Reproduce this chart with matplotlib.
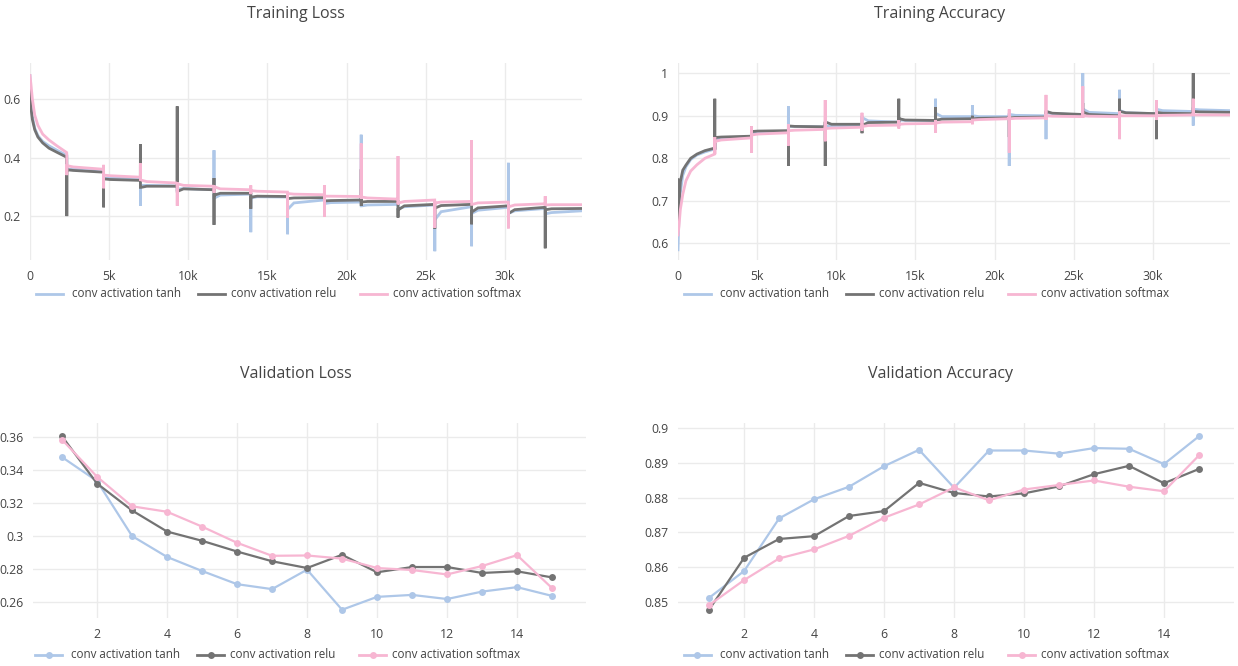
import matplotlib
matplotlib.use("Agg")
import matplotlib.pyplot as plt
from matplotlib.lines import Line2D
from matplotlib.ticker import FixedLocator, FuncFormatter

plt.rcParams["font.family"] = ["Open Sans", "DejaVu Sans"]

# ---------------------------------------------------------------- data
series_names = ["conv activation tanh", "conv activation relu", "conv activation softmax"]
series_colors = ["#aec7e8", "#737373", "#f7b6d2"]

steps_per_epoch = 2325
n_epochs = 15

# first-epoch curves: (steps, values)
loss_first_steps = [0, 60, 150, 300, 500, 800, 1200, 1700, 2320]
loss_first_tanh = [0.68, 0.60, 0.54, 0.50, 0.475, 0.455, 0.44, 0.425, 0.407]
loss_first_relu = [0.63, 0.57, 0.53, 0.495, 0.47, 0.45, 0.432, 0.418, 0.401]
loss_first_softmax = [0.68, 0.65, 0.60, 0.545, 0.51, 0.48, 0.46, 0.44, 0.417]

acc_first_steps = [0, 60, 150, 300, 500, 800, 1200, 1700, 2320]
acc_first_tanh = [0.585, 0.66, 0.72, 0.76, 0.78, 0.797, 0.808, 0.815, 0.822]
acc_first_softmax = [0.62, 0.64, 0.68, 0.715, 0.747, 0.77, 0.785, 0.80, 0.81]
acc_first_steps_relu = [0, 20, 80, 150, 300, 500, 800, 1200, 1700, 2320]
acc_first_relu = [0.75, 0.64, 0.70, 0.745, 0.772, 0.784, 0.80, 0.81, 0.818, 0.824]

# excursions at each epoch boundary (high, low), boundaries 1..14
loss_spikes_tanh = [(0.41, 0.35), (0.355, 0.33), (0.33, 0.235), (0.31, 0.285),
                    (0.425, 0.265), (0.28, 0.145), (0.27, 0.138), (0.26, 0.20),
                    (0.478, 0.235), (0.245, 0.225), (0.24, 0.08), (0.235, 0.097),
                    (0.382, 0.215), (0.228, 0.21)]
loss_spikes_relu = [(0.36, 0.20), (0.35, 0.23), (0.445, 0.32), (0.575, 0.30),
                    (0.33, 0.17), (0.28, 0.225), (0.27, 0.26), (0.27, 0.25),
                    (0.36, 0.235), (0.25, 0.195), (0.24, 0.157), (0.24, 0.172),
                    (0.235, 0.21), (0.23, 0.09)]
loss_spikes_softmax = [(0.415, 0.34), (0.375, 0.295), (0.38, 0.32), (0.315, 0.235),
                       (0.305, 0.28), (0.305, 0.275), (0.28, 0.195), (0.305, 0.197),
                       (0.448, 0.26), (0.405, 0.24), (0.25, 0.16), (0.459, 0.24),
                       (0.245, 0.158), (0.268, 0.235)]

# epochs 2..15: (value after boundary, settled value, value at epoch end)
loss_epochs_tanh = [(0.36, 0.36, 0.355), (0.33, 0.33, 0.327), (0.305, 0.305, 0.303),
                    (0.292, 0.294, 0.29), (0.262, 0.272, 0.275), (0.262, 0.266, 0.265),
                    (0.225, 0.245, 0.255), (0.243, 0.246, 0.248), (0.235, 0.238, 0.24),
                    (0.225, 0.232, 0.238), (0.19, 0.215, 0.232), (0.21, 0.22, 0.23),
                    (0.21, 0.218, 0.226), (0.208, 0.212, 0.218)]
loss_epochs_relu = [(0.358, 0.356, 0.35), (0.327, 0.325, 0.322), (0.298, 0.302, 0.302),
                    (0.285, 0.293, 0.29), (0.272, 0.278, 0.278), (0.265, 0.268, 0.267),
                    (0.26, 0.262, 0.263), (0.252, 0.253, 0.255), (0.248, 0.25, 0.25),
                    (0.222, 0.235, 0.24), (0.228, 0.236, 0.24), (0.215, 0.228, 0.235),
                    (0.21, 0.222, 0.23), (0.222, 0.225, 0.226)]
loss_epochs_softmax = [(0.372, 0.368, 0.36), (0.34, 0.338, 0.333), (0.323, 0.318, 0.313),
                       (0.31, 0.305, 0.302), (0.30, 0.293, 0.29), (0.287, 0.285, 0.282),
                       (0.277, 0.275, 0.273), (0.268, 0.268, 0.267), (0.265, 0.262, 0.258),
                       (0.245, 0.25, 0.255), (0.245, 0.248, 0.25), (0.24, 0.245, 0.248),
                       (0.232, 0.238, 0.242), (0.238, 0.239, 0.239)]

acc_spikes_tanh = [(0.85, 0.82), (0.865, 0.845), (0.922, 0.86), (0.88, 0.87),
                   (0.90, 0.87), (0.89, 0.88), (0.94, 0.88), (0.925, 0.89),
                   (0.905, 0.782), (0.905, 0.845), (1.0, 0.90), (0.961, 0.90),
                   (0.915, 0.90), (0.92, 0.877)]
acc_spikes_relu = [(0.94, 0.82), (0.875, 0.85), (0.87, 0.782), (0.885, 0.782),
                   (0.88, 0.859), (0.94, 0.885), (0.92, 0.888), (0.90, 0.89),
                   (0.90, 0.85), (0.91, 0.895), (0.93, 0.90), (0.94, 0.90),
                   (0.91, 0.845), (1.0, 0.905)]
acc_spikes_softmax = [(0.85, 0.81), (0.875, 0.813), (0.88, 0.83), (0.937, 0.84),
                      (0.907, 0.865), (0.89, 0.87), (0.89, 0.86), (0.89, 0.88),
                      (0.915, 0.813), (0.949, 0.89), (0.969, 0.895), (0.91, 0.845),
                      (0.937, 0.89), (0.94, 0.90)]

acc_epochs_tanh = [(0.845, 0.846, 0.85), (0.86, 0.861, 0.863), (0.875, 0.875, 0.874),
                   (0.875, 0.876, 0.878), (0.895, 0.888, 0.885), (0.89, 0.889, 0.889),
                   (0.905, 0.898, 0.898), (0.90, 0.898, 0.898), (0.903, 0.901, 0.90),
                   (0.907, 0.905, 0.902), (0.915, 0.908, 0.905), (0.912, 0.907, 0.905),
                   (0.915, 0.912, 0.91), (0.915, 0.914, 0.912)]
acc_epochs_relu = [(0.849, 0.85, 0.852), (0.863, 0.864, 0.865), (0.876, 0.875, 0.874),
                   (0.885, 0.88, 0.88), (0.878, 0.884, 0.885), (0.893, 0.89, 0.889),
                   (0.89, 0.892, 0.893), (0.893, 0.894, 0.895), (0.895, 0.896, 0.897),
                   (0.91, 0.906, 0.903), (0.908, 0.903, 0.90), (0.91, 0.907, 0.905),
                   (0.908, 0.906, 0.905), (0.91, 0.909, 0.908)]
acc_epochs_softmax = [(0.84, 0.843, 0.848), (0.855, 0.857, 0.86), (0.865, 0.866, 0.868),
                      (0.87, 0.871, 0.873), (0.875, 0.877, 0.878), (0.88, 0.881, 0.882),
                      (0.883, 0.885, 0.886), (0.89, 0.891, 0.893), (0.893, 0.894, 0.895),
                      (0.90, 0.899, 0.898), (0.90, 0.899, 0.898), (0.90, 0.90, 0.90),
                      (0.90, 0.901, 0.902), (0.902, 0.902, 0.902)]

epochs = list(range(1, 16))
val_loss_tanh = [0.3478, 0.3333, 0.3000, 0.2873, 0.2788, 0.2708, 0.2678, 0.2796,
                 0.2553, 0.2631, 0.2643, 0.2618, 0.2663, 0.2690, 0.2637]
val_loss_relu = [0.3604, 0.3318, 0.3155, 0.3027, 0.2971, 0.2906, 0.2847, 0.2806,
                 0.2886, 0.2780, 0.2812, 0.2812, 0.2776, 0.2786, 0.2749]
val_loss_softmax = [0.3584, 0.3359, 0.3180, 0.3147, 0.3057, 0.2959, 0.2880, 0.2882,
                    0.2863, 0.2806, 0.2794, 0.2767, 0.2818, 0.2884, 0.2684]

val_acc_tanh = [0.8512, 0.8589, 0.8740, 0.8795, 0.8831, 0.8890, 0.8937, 0.8828,
                0.8935, 0.8935, 0.8926, 0.8942, 0.8940, 0.8896, 0.8976]
val_acc_relu = [0.8478, 0.8627, 0.8681, 0.8689, 0.8747, 0.8761, 0.8842, 0.8813,
                0.8803, 0.8812, 0.8832, 0.8867, 0.8891, 0.8841, 0.8882]
val_acc_softmax = [0.8491, 0.8563, 0.8625, 0.8651, 0.8690, 0.8742, 0.8780, 0.8829,
                   0.8792, 0.8823, 0.8836, 0.8849, 0.8831, 0.8818, 0.8921]

train_xticks = [0, 5000, 10000, 15000, 20000, 25000, 30000]
train_xticklabels = ["0", "5k", "10k", "15k", "20k", "25k", "30k"]
val_xticks = [2, 4, 6, 8, 10, 12, 14]


# ---------------------------------------------------------------- helpers
def training_path(first_steps, first_vals, spikes, epoch_vals):
    """Assemble a per-step curve from the first epoch and later epoch summaries."""
    xs = list(first_steps)
    ys = list(first_vals)
    for i, ((hi, lo), (start, settled, end)) in enumerate(zip(spikes, epoch_vals)):
        b = (i + 1) * steps_per_epoch
        xs += [b, b + 1, b + 2, b + 40, b + 400, b + steps_per_epoch - 5]
        ys += [hi, lo, start, start, settled, end]
    return xs, ys


TEXT = "#444444"
GRID = "#ebebeb"


def fmt(v, _pos=None):
    return f"{round(v, 4):g}"


def style_axes(ax):
    for s in ax.spines.values():
        s.set_visible(False)
    ax.grid(True, color=GRID, linewidth=1.0)
    ax.set_axisbelow(True)
    ax.tick_params(length=0, labelsize=8.8, colors=TEXT, pad=7)
    ax.yaxis.set_major_formatter(FuncFormatter(fmt))


W, H = 1238, 666
fig = plt.figure(figsize=(W / 100, H / 100), dpi=100)


def add_axes(x0, x1, y0, y1):
    return fig.add_axes([x0 / W, 1 - y1 / H, (x1 - x0) / W, (y1 - y0) / H])


ax_tl = add_axes(30, 582, 63, 260)
ax_tr = add_axes(678, 1230, 63, 260)
ax_bl = add_axes(33, 586, 423, 618)
ax_br = add_axes(678, 1234, 423, 618)

# ---------------------------------------------------------------- training curves
loss_sets = [
    (loss_first_steps, loss_first_tanh, loss_spikes_tanh, loss_epochs_tanh),
    (loss_first_steps, loss_first_relu, loss_spikes_relu, loss_epochs_relu),
    (loss_first_steps, loss_first_softmax, loss_spikes_softmax, loss_epochs_softmax),
]
for (fs, first, spikes, ep), c, name in zip(loss_sets, series_colors, series_names):
    xs, ys = training_path(fs, first, spikes, ep)
    ax_tl.plot(xs, ys, color=c, linewidth=2.0, solid_joinstyle="miter", label=name)

acc_sets = [
    (acc_first_steps, acc_first_tanh, acc_spikes_tanh, acc_epochs_tanh),
    (acc_first_steps_relu, acc_first_relu, acc_spikes_relu, acc_epochs_relu),
    (acc_first_steps, acc_first_softmax, acc_spikes_softmax, acc_epochs_softmax),
]
for (fs, first, spikes, ep), c, name in zip(acc_sets, series_colors, series_names):
    xs, ys = training_path(fs, first, spikes, ep)
    ax_tr.plot(xs, ys, color=c, linewidth=2.0, solid_joinstyle="miter", label=name)

end_step = n_epochs * steps_per_epoch
for ax in (ax_tl, ax_tr):
    style_axes(ax)
    ax.set_xlim(0, end_step)
    ax.xaxis.set_major_locator(FixedLocator(train_xticks))
    ax.set_xticklabels(train_xticklabels)

ax_tl.set_ylim(0.05, 0.723)
ax_tl.yaxis.set_major_locator(FixedLocator([0.2, 0.4, 0.6]))
ax_tr.set_ylim(0.561, 1.024)
ax_tr.yaxis.set_major_locator(FixedLocator([0.6, 0.7, 0.8, 0.9, 1.0]))

# ---------------------------------------------------------------- validation
for vals, c, name in zip([val_loss_tanh, val_loss_relu, val_loss_softmax],
                         series_colors, series_names):
    ax_bl.plot(epochs, vals, color=c, linewidth=1.6, marker="o", markersize=5,
               markeredgewidth=0, label=name)
for vals, c, name in zip([val_acc_tanh, val_acc_relu, val_acc_softmax],
                         series_colors, series_names):
    ax_br.plot(epochs, vals, color=c, linewidth=1.6, marker="o", markersize=5,
               markeredgewidth=0, label=name)

for ax in (ax_bl, ax_br):
    style_axes(ax)
    ax.xaxis.set_major_locator(FixedLocator(val_xticks))
    ax.xaxis.set_major_formatter(FuncFormatter(fmt))

ax_bl.set_xlim(0.17, 15.97)
ax_bl.set_ylim(0.2503, 0.3685)
ax_bl.yaxis.set_major_locator(FixedLocator([0.26, 0.28, 0.30, 0.32, 0.34, 0.36]))
ax_br.set_xlim(0.11, 16.0)
ax_br.set_ylim(0.8454, 0.9014)
ax_br.yaxis.set_major_locator(FixedLocator([0.85, 0.86, 0.87, 0.88, 0.89, 0.90]))

# ---------------------------------------------------------------- titles
title_kw = dict(ha="center", va="center", fontsize=11.5, color=TEXT)
fig.text(296 / W, 1 - 14 / H, "Training Loss", **title_kw)
fig.text(940 / W, 1 - 14 / H, "Training Accuracy", **title_kw)
fig.text(296 / W, 1 - 374 / H, "Validation Loss", **title_kw)
fig.text(940 / W, 1 - 374 / H, "Validation Accuracy", **title_kw)

# ---------------------------------------------------------------- legends
legend_labels = [" " + series_names[0], series_names[1], series_names[2]]


def add_legend(x_px, y_px, markers):
    item_w, handle_w, gap = 162, 27, 6
    for i, (c, lab) in enumerate(zip(series_colors, legend_labels)):
        x0 = x_px + i * item_w
        y = 1 - y_px / H
        fig.add_artist(Line2D([x0 / W, (x0 + handle_w) / W], [y, y],
                              transform=fig.transFigure, color=c, linewidth=2.0))
        if markers:
            fig.add_artist(Line2D([(x0 + handle_w / 2) / W], [y],
                                  transform=fig.transFigure, color=c,
                                  marker="o", markersize=5, markeredgewidth=0,
                                  linestyle="none"))
        fig.text((x0 + handle_w + gap) / W, y, lab, ha="left", va="center",
                 fontsize=8.4, color=TEXT)


add_legend(36, 294, False)
add_legend(684, 294, False)
add_legend(35, 655, True)
add_legend(684, 655, True)

fig.savefig("out.png", dpi=100, facecolor="white")
